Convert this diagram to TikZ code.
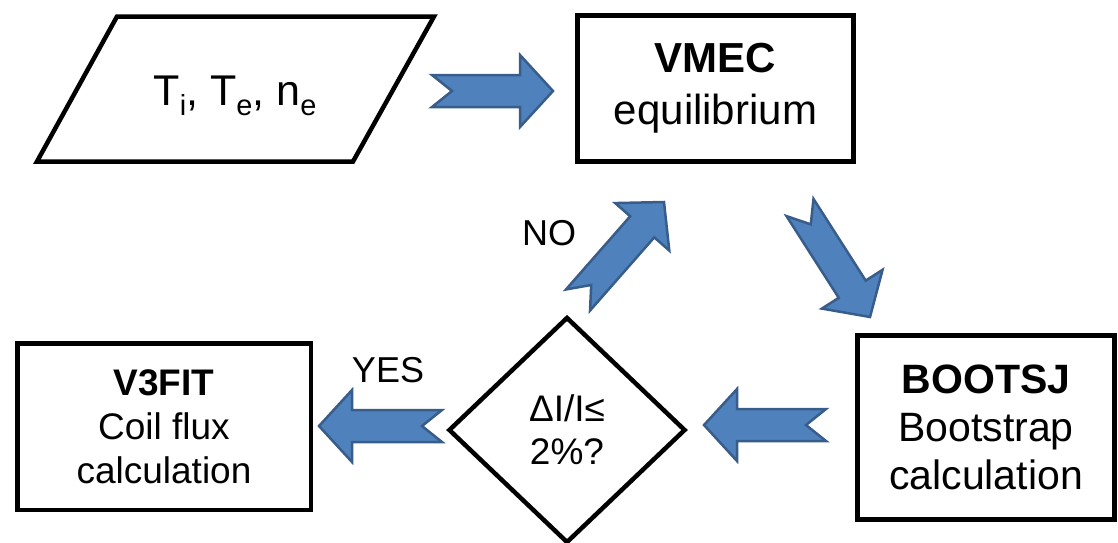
\documentclass[tikz,border=0pt]{standalone}
\usepackage{fontspec}
\setmainfont{Liberation Sans}
\usetikzlibrary{calc,shapes.geometric}

\definecolor{arrowfill}{RGB}{79,129,189}
\definecolor{arrowline}{RGB}{56,93,138}

\tikzset{
  box/.style={draw, line width=4.5pt, align=center, inner sep=0pt},
  test/.style={diamond, draw, line width=4.5pt, align=center, inner sep=0pt,
    minimum width=237pt, minimum height=226pt},
  lbl/.style={font=\fontsize{36}{40}\selectfont},
  fatarrow/.style={fill=arrowfill, draw=arrowline, line width=2.5pt, line join=miter}
}

% lowered index, as in T_i
\newcommand{\lowidx}[1]{\raisebox{-10pt}{\fontsize{29}{29}\selectfont #1}}

% block arrow from tail (#1) to tip (#2)
\newcommand{\blockarrow}[2]{%
  \draw[fatarrow] ($(#1)!16pt!90:(#2)$)
    -- ($(#2)!33pt!(#1)!16pt!90:(#2)$)
    -- ($(#2)!33pt!(#1)!36pt!90:(#2)$)
    -- (#2)
    -- ($(#2)!33pt!(#1)!36pt!270:(#2)$)
    -- ($(#2)!33pt!(#1)!16pt!270:(#2)$)
    -- ($(#1)!16pt!270:(#2)$)
    -- ($(#1)!20pt!(#2)$) -- cycle;}

\begin{document}
\begin{tikzpicture}[x=1pt, y=-1pt]
  \useasboundingbox (0,0) rectangle (1118,542);

  % input parallelogram
  \draw[line width=4.5pt, line join=miter]
    (117,16.5) -- (434,16.5) -- (353,161.5) -- (37,161.5) -- cycle;
  \node[font=\fontsize{43}{50}\selectfont, inner sep=0pt] (in) at (235,96)
    {T\lowidx{i}, T\lowidx{e}, n\lowidx{e}};

  \node[box, minimum width=276pt, minimum height=146pt,
    font=\fontsize{42}{52}\selectfont] (vmec) at (715.5,88.5)
    {\textbf{VMEC}\\equilibrium};
  \node[box, minimum width=257pt, minimum height=184pt,
    font=\fontsize{41}{48}\selectfont] (bootsj) at (986,427.5)
    {\textbf{BOOTSJ}\\Bootstrap\\calculation};
  \node[test, font=\fontsize{37}{43}\selectfont] (check) at (567,430)
    {ΔI/I≤\\2\%?};
  \node[box, minimum width=293.5pt, minimum height=166.5pt,
    font=\fontsize{37}{44}\selectfont] (v3fit) at (164,426.5)
    {\textbf{V3FIT}\\Coil flux\\calculation};

  \node[lbl] (no) at (549,233) {NO};
  \node[lbl] (yes) at (388,370) {YES};

  % arrow ends
  \coordinate (a1s) at (432,91);   \coordinate (a1e) at (553,91);
  \coordinate (a2s) at (800,207.5); \coordinate (a2e) at (870,317);
  \coordinate (a3s) at (826,425);  \coordinate (a3e) at (704,425);
  \coordinate (a4s) at (442,426);  \coordinate (a4e) at (319,426);
  \coordinate (a5s) at (578,300);  \coordinate (a5e) at (664,202);

  \blockarrow{a1s}{a1e}
  \blockarrow{a2s}{a2e}
  \blockarrow{a3s}{a3e}
  \blockarrow{a4s}{a4e}
  \blockarrow{a5s}{a5e}
\end{tikzpicture}
\end{document}
